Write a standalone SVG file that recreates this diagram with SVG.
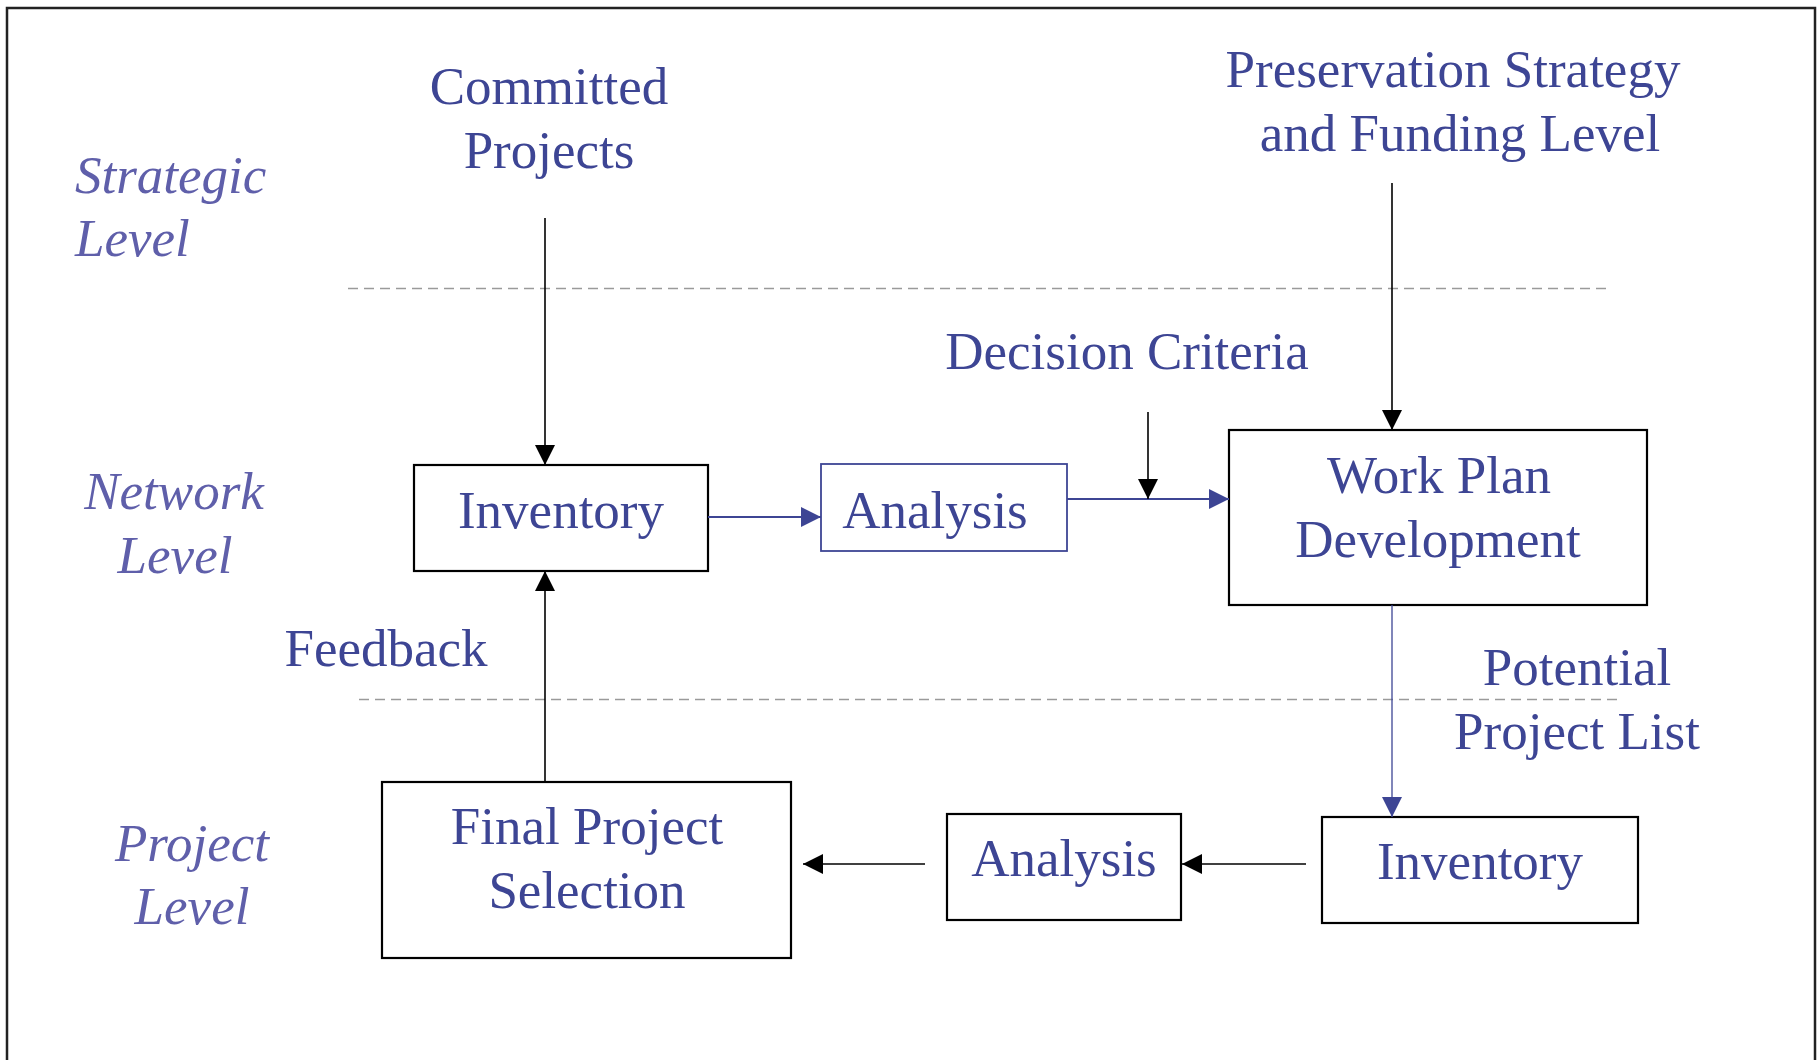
<svg xmlns="http://www.w3.org/2000/svg" width="1819" height="1060" viewBox="0 0 1819 1060">
<style>
  .t { font-family: "Liberation Serif", "Times New Roman", serif; font-size: 53px; fill: #3d4594; text-anchor: middle; }
  .lvl { font-family: "Liberation Serif", "Times New Roman", serif; font-size: 53px; font-style: italic; fill: #5f5faa; }
  .box { fill: #ffffff; stroke: #000000; stroke-width: 2.2; }
  .boxb { fill: #ffffff; stroke: #3d4594; stroke-width: 1.8; }
  .k { stroke: #000000; stroke-width: 1.6; fill: none; marker-end: url(#ak); }
  .b { stroke: #3d4594; stroke-width: 1.8; fill: none; marker-end: url(#ab); }
  .dash { stroke: #9a9a9a; stroke-width: 1.6; stroke-dasharray: 10 6; fill: none; }
</style>
<defs>
  <marker id="ak" markerUnits="userSpaceOnUse" markerWidth="20" markerHeight="20" refX="20" refY="10" orient="auto">
    <path d="M0,0 L20,10 L0,20 z" fill="#000000"/>
  </marker>
  <marker id="ab" markerUnits="userSpaceOnUse" markerWidth="20" markerHeight="20" refX="20" refY="10" orient="auto">
    <path d="M0,0 L20,10 L0,20 z" fill="#3d4594"/>
  </marker>
</defs>
<rect x="0" y="0" width="1819" height="1060" fill="#ffffff"/>
<rect x="7" y="8" width="1808" height="1080" fill="none" stroke="#222222" stroke-width="2.5"/>

<g id="levels">
  <text class="lvl" x="75" y="193">Strategic</text>
  <text class="lvl" x="75" y="256">Level</text>
  <text class="lvl" x="174" y="509" text-anchor="middle">Network</text>
  <text class="lvl" x="175" y="573" text-anchor="middle">Level</text>
  <text class="lvl" x="192" y="861" text-anchor="middle">Project</text>
  <text class="lvl" x="192" y="924" text-anchor="middle">Level</text>
</g>

<g id="dividers">
  <line class="dash" x1="348" y1="288.5" x2="1608" y2="288.5"/>
  <line class="dash" x1="359" y1="699.5" x2="1621" y2="699.5"/>
</g>

<g id="committed-projects">
  <text class="t" x="549" y="104">Committed</text>
  <text class="t" x="549" y="168">Projects</text>
</g>
<g id="preservation-strategy">
  <text class="t" x="1453" y="87">Preservation Strategy</text>
  <text class="t" x="1460" y="151">and Funding Level</text>
</g>
<g id="decision-criteria">
  <text class="t" x="1127" y="369">Decision Criteria</text>
</g>
<g id="feedback-label">
  <text class="t" x="386" y="666">Feedback</text>
</g>
<g id="potential-project-list">
  <text class="t" x="1577" y="685">Potential</text>
  <text class="t" x="1577" y="749">Project List</text>
</g>

<g id="inventory-network">
  <rect class="box" x="414" y="465" width="294" height="106"/>
  <text class="t" x="561" y="528">Inventory</text>
</g>
<g id="analysis-network">
  <rect class="boxb" x="821" y="464" width="246" height="87"/>
  <text class="t" x="935" y="528">Analysis</text>
</g>
<g id="work-plan-development">
  <rect class="box" x="1229" y="430" width="418" height="175"/>
  <text class="t" x="1439" y="493">Work Plan</text>
  <text class="t" x="1438" y="557">Development</text>
</g>
<g id="final-project-selection">
  <rect class="box" x="382" y="782" width="409" height="176"/>
  <text class="t" x="587" y="844">Final Project</text>
  <text class="t" x="587" y="908">Selection</text>
</g>
<g id="analysis-project">
  <rect class="box" x="947" y="814" width="234" height="106"/>
  <text class="t" x="1064" y="876">Analysis</text>
</g>
<g id="inventory-project">
  <rect class="box" x="1322" y="817" width="316" height="106"/>
  <text class="t" x="1480" y="879">Inventory</text>
</g>

<g id="connectors">
  <line class="k" x1="545" y1="218" x2="545" y2="465"/>
  <line class="k" x1="1392" y1="183" x2="1392" y2="430"/>
  <line class="b" x1="708" y1="517" x2="821" y2="517"/>
  <line class="b" x1="1067" y1="499" x2="1229" y2="499"/>
  <line class="k" x1="1148" y1="412" x2="1148" y2="499"/>
  <line class="b" x1="1392" y1="605" x2="1392" y2="817" style="stroke-width:1.3"/>
  <line class="k" x1="1306" y1="864" x2="1182" y2="864"/>
  <line class="k" x1="925" y1="864" x2="803" y2="864"/>
  <line class="k" x1="545" y1="782" x2="545" y2="571"/>
</g>
</svg>
